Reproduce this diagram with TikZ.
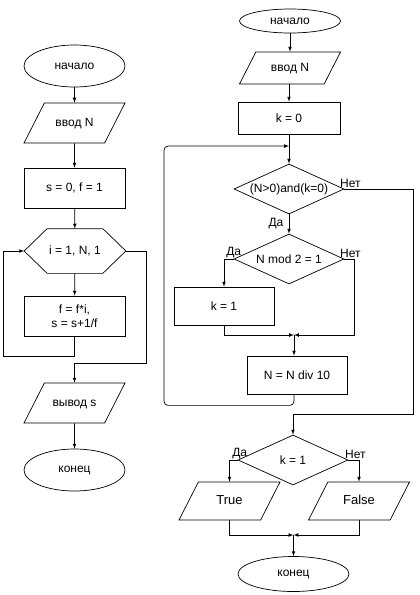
\documentclass[tikz,border=0pt]{standalone}
\usepackage{fontspec}
\setmainfont{Liberation Sans}
\usetikzlibrary{shapes.geometric,positioning,calc}

\begin{document}
\begin{tikzpicture}[x=1pt,y=-1pt,line width=0.7pt,font=\fontsize{12}{14}\selectfont,
		term/.style={draw,ellipse,minimum width=101pt,minimum height=42pt,inner sep=0pt},
		io/.style={draw,trapezium,trapezium left angle=63,trapezium right angle=117,trapezium stretches body,
			minimum width=101pt,text height=9pt,text depth=3pt,inner xsep=0pt,inner ysep=#1},
		io/.default=14pt,
		proc/.style={draw,rectangle,minimum width=101pt,minimum height=40pt,inner sep=0pt},
		cond/.style={draw,diamond,aspect=2.2,minimum width=110pt,minimum height=50pt,inner sep=0pt},
		ans/.style={above,inner sep=1pt}]
		\useasboundingbox (0,0) rectangle (420,595);
		% left scheme
		\node[term] (startL) at (74.5,66) {начало};
		\node[io] (inL) at (74.5,123) {ввод N};
		\node[proc] (initL) at (74.5,188) {s = 0, f = 1};
		\node[minimum width=101pt,minimum height=44pt,inner sep=0pt] (forL) at (75,251) {i = 1, N, 1};
		\draw (forL.west) -- ($(forL.north west)+(23,0)$) -- ($(forL.north east)+(-23,0)$) -- (forL.east)
			-- ($(forL.south east)+(-23,0)$) -- ($(forL.south west)+(23,0)$) -- cycle;
		\node[proc,align=center] (bodyL) at (74.5,316) {f = f*i,\\ s = s+1/f};
		\node[io] (outL) at (74.5,403) {вывод s};
		\node[term] (endL) at (74.5,470) {конец};
		\draw[-latex] (startL) -- (inL);
		\draw[-latex] (inL) -- (initL);
		\draw[-latex] (initL) -- (forL);
		\draw[-latex] (forL) -- (bodyL);
		\draw[-latex] (bodyL.south) -- ++(0,20) -| ($(forL.west)+(-21,0)$) -- (forL.west);
		\draw[-latex] (forL.east) -- ++(20,0) |- ($(outL.north)+(0,-19)$) -- (outL.north);
		\draw[-latex] (outL) -- (endL);
		% right scheme
		\node[term,minimum height=24pt] (startR) at (290,21) {начало};
		\node[io=10pt] (inR) at (290,68) {ввод N};
		\node[proc,minimum width=102pt,minimum height=32pt] (initR) at (289,118) {k = 0};
		\node[cond] (whileR) at (289,189) {(N>0)and(k=0)};
		\node[cond] (oddR) at (289,259) {N mod 2 = 1};
		\node[proc,minimum width=100pt,minimum height=38pt] (setR) at (224,306) {k = 1};
		\node[proc,minimum width=100pt,minimum height=38pt] (divR) at (297,375) {N = N div 10};
		\node[cond] (ifR) at (293,460) {k = 1};
		\node[io=13pt,font=\fontsize{13}{15}\selectfont] (trueR) at (229.5,501) {True};
		\node[io=13pt,font=\fontsize{13}{15}\selectfont] (falseR) at (359,501) {False};
		\node[term,minimum width=111pt,minimum height=35pt] (endR) at (293.5,574) {конец};
		\coordinate (loopIn) at ($(initR.south)!0.4!(whileR.north)$);
		\coordinate (mergeA) at (294,335);
		\coordinate (mergeB) at (293.5,535);
		\draw[-latex] (startR.south) -- (startR.south |- inR.north);
		\draw[-latex] (inR.south) -- (inR.south -| initR.north) -- (initR.north);
		\draw[-latex] (initR) -- (whileR);
		\draw[-latex] (whileR) -- node[left,xshift=-2pt] {Да} (oddR);
		\draw[-latex] (whileR.east) node[ans,xshift=6pt] {Нет} -- ++(69,0) |- ($(ifR.north)+(0,-20)$) -- (ifR.north);
		\draw[-latex] (oddR.west) node[ans] {Да} -| (setR.north);
		\draw[-latex] (oddR.east) node[ans,xshift=6pt] {Нет} -- ++(10,0) |- (mergeA);
		\draw[-latex] (setR.south) |- (mergeA);
		\draw[-latex] (mergeA) -- (mergeA |- divR.north);
		\draw[-latex,rounded corners=4pt] (mergeA |- divR.south) -- ++(0,11) -| ($(loopIn)+(-125,0)$) -- (loopIn);
		\draw[-latex] (ifR.west) node[ans,xshift=2pt] {Да} -| (trueR.north);
		\draw[-latex] (ifR.east) node[ans,xshift=7pt] {Нет} -| (falseR.north);
		\draw[-latex] (trueR.south) |- (mergeB);
		\draw[-latex] (falseR.south) |- (mergeB);
		\draw[-latex] (mergeB) -- (mergeB |- endR.north);
	\end{tikzpicture}
\end{document}
